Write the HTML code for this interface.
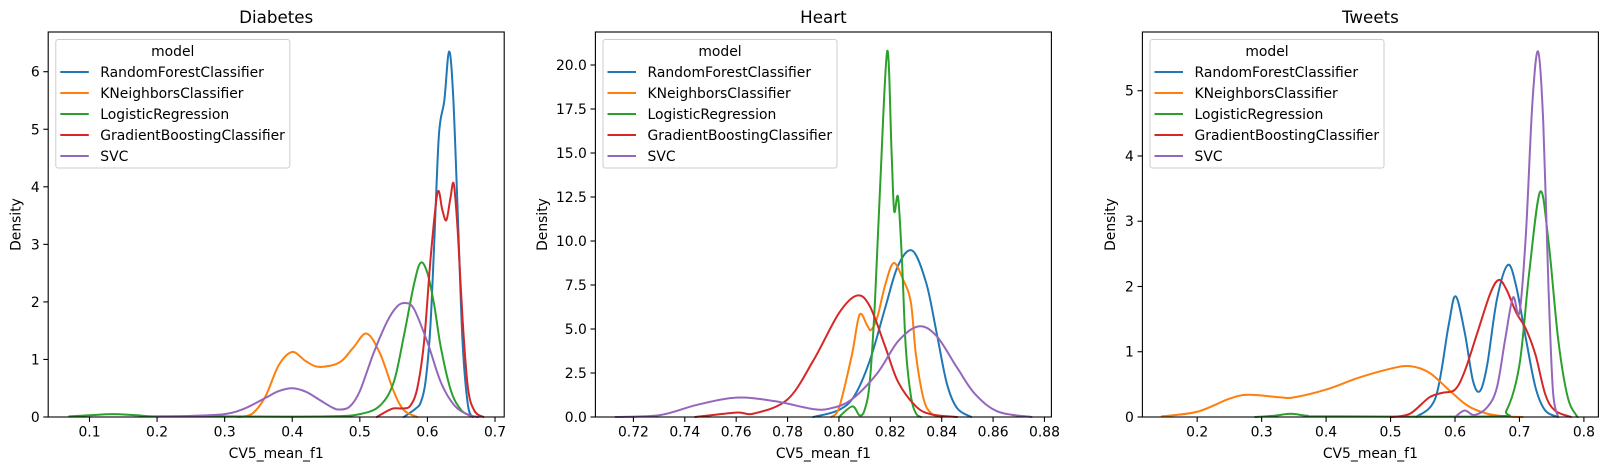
<!DOCTYPE html>
<html><head><meta charset="utf-8"><style>
html,body{margin:0;padding:0;background:#fff;}
svg{display:block;font-family:"DejaVu Sans","Liberation Sans",sans-serif;}
</style></head><body>
<svg id="fig" width="1608" height="470" viewBox="0 0 1608 470"></svg>
<script>
const modelNames = ["RandomForestClassifier","KNeighborsClassifier","LogisticRegression","GradientBoostingClassifier","SVC"];
const colors = ["#1f77b4","#ff7f0e","#2ca02c","#d62728","#9467bd"];

// Diabetes
const diabXTicks = [0.1,0.2,0.3,0.4,0.5,0.6,0.7];
const diabYTicks = [0,1,2,3,4,5,6];
const diabRF_x = [0.565,0.575,0.583,0.59,0.597,0.604,0.61,0.617,0.625,0.632,0.638,0.645,0.652,0.66,0.667];
const diabRF_y = [0,0.08,0.15,0.25,0.6,1.5,3.0,4.9,5.5,6.35,5.6,3.5,1.3,0.2,0];
const diabKNN_x = [0.32,0.34,0.36,0.38,0.4,0.42,0.44,0.47,0.49,0.51,0.53,0.55,0.565,0.585];
const diabKNN_y = [0,0.05,0.35,0.9,1.13,0.97,0.87,0.95,1.2,1.45,1.1,0.45,0.12,0];
const diabLR_x = [0.07,0.1,0.135,0.17,0.2,0.3,0.45,0.5,0.53,0.55,0.565,0.58,0.59,0.6,0.61,0.62,0.635,0.65,0.665,0.675];
const diabLR_y = [0.01,0.03,0.05,0.03,0.01,0.01,0.01,0.05,0.2,0.6,1.4,2.3,2.68,2.5,1.95,1.2,0.45,0.12,0.02,0];
const diabGB_x = [0.525,0.54,0.55,0.565,0.575,0.585,0.595,0.605,0.615,0.622,0.628,0.634,0.639,0.645,0.652,0.66,0.67,0.683];
const diabGB_y = [0,0.1,0.15,0.15,0.2,0.5,1.3,2.8,3.9,3.6,3.42,3.8,4.05,3.2,1.7,0.5,0.1,0];
const diabSVC_x = [0.2,0.25,0.3,0.33,0.36,0.38,0.4,0.42,0.44,0.46,0.47,0.485,0.5,0.52,0.54,0.555,0.567,0.58,0.6,0.62,0.64,0.66,0.675];
const diabSVC_y = [0.01,0.02,0.05,0.15,0.33,0.45,0.5,0.44,0.3,0.16,0.13,0.18,0.45,1.1,1.65,1.92,1.98,1.88,1.3,0.6,0.2,0.04,0];

// Heart
const heartXTicks = [0.72,0.74,0.76,0.78,0.80,0.82,0.84,0.86,0.88];
const heartYTicks = [0,2.5,5,7.5,10,12.5,15,17.5,20];
const heartRF_x = [0.79,0.8,0.806,0.812,0.818,0.823,0.8286,0.834,0.838,0.842,0.846,0.8515];
const heartRF_y = [0,0.4,1.2,3.2,6.2,8.6,9.45,7.6,4.8,1.9,0.5,0];
const heartKNN_x = [0.797,0.8,0.805,0.808,0.811,0.8125,0.815,0.818,0.8213,0.825,0.828,0.83,0.833,0.836,0.84];
const heartKNN_y = [0,0.5,3.5,5.8,5.2,4.95,5.7,7.5,8.75,7.8,6.5,3.5,1.0,0.2,0];
const heartLR_x = [0.8,0.8052,0.808,0.81,0.812,0.814,0.816,0.8188,0.8205,0.8215,0.823,0.8245,0.826,0.828,0.83,0.832];
const heartLR_y = [0,0.6,0.1,0.4,2,6.5,13,20.8,15,11.7,12.5,9,4,1.2,0.2,0];
const heartGB_x = [0.744,0.76,0.767,0.78,0.79,0.8,0.807,0.812,0.818,0.823,0.83,0.836,0.846];
const heartGB_y = [0,0.25,0.2,1.0,3.2,5.9,6.9,6.3,4.0,2.0,0.6,0.15,0];
const heartSVC_x = [0.713,0.73,0.745,0.76,0.775,0.79,0.797,0.805,0.815,0.823,0.831,0.838,0.846,0.853,0.862,0.875];
const heartSVC_y = [0,0.1,0.7,1.1,0.9,0.45,0.5,1.0,2.5,4.3,5.15,4.6,2.8,1.3,0.3,0];

// Tweets
const twXTicks = [0.2,0.3,0.4,0.5,0.6,0.7,0.8];
const twYTicks = [0,1,2,3,4,5];
const twRF_x = [0.54,0.57,0.59,0.601,0.615,0.628,0.639,0.65,0.665,0.682,0.695,0.71,0.725,0.74,0.76];
const twRF_y = [0,0.3,1.4,1.85,1.3,0.55,0.4,0.8,1.8,2.33,2.0,1.2,0.45,0.1,0];
const twKNN_x = [0.145,0.2,0.25,0.28,0.33,0.35,0.4,0.45,0.5,0.53,0.56,0.59,0.62,0.65,0.68,0.705];
const twKNN_y = [0.01,0.08,0.28,0.34,0.3,0.3,0.42,0.6,0.74,0.78,0.68,0.42,0.17,0.05,0.01,0];
const twLR_x = [0.29,0.32,0.345,0.37,0.4,0.66,0.68,0.7,0.715,0.732,0.745,0.76,0.775,0.79];
const twLR_y = [0,0.02,0.05,0.02,0.01,0.01,0.1,0.8,2.2,3.45,2.7,1.2,0.3,0];
const twGB_x = [0.5,0.53,0.56,0.58,0.6,0.615,0.635,0.655,0.668,0.68,0.695,0.71,0.725,0.74,0.755,0.78];
const twGB_y = [0,0.05,0.3,0.37,0.42,0.7,1.3,1.9,2.1,1.95,1.6,1.35,0.95,0.35,0.1,0];
const twSVC_x = [0.6,0.615,0.63,0.65,0.665,0.678,0.69,0.7,0.71,0.72,0.729,0.737,0.745,0.752,0.76];
const twSVC_y = [0,0.1,0.03,0.15,0.45,1.2,1.83,1.6,2.8,4.8,5.6,4.5,2.0,0.4,0];

const NS = "http://www.w3.org/2000/svg";
const svg = document.getElementById('fig');
function mk(tag, attrs, parent){
  const e = document.createElementNS(NS, tag);
  for (const k in attrs) e.setAttribute(k, attrs[k]);
  (parent||svg).appendChild(e);
  return e;
}
function smoothPath(pts){
  let d = "M"+pts[0][0].toFixed(2)+","+pts[0][1].toFixed(2);
  for (let i=0;i<pts.length-1;i++){
    const p0=pts[Math.max(0,i-1)], p1=pts[i], p2=pts[i+1], p3=pts[Math.min(pts.length-1,i+2)];
    const c1x=p1[0]+(p2[0]-p0[0])/6, c1y=p1[1]+(p2[1]-p0[1])/6;
    const c2x=p2[0]-(p3[0]-p1[0])/6, c2y=p2[1]-(p3[1]-p1[1])/6;
    d += " C"+c1x.toFixed(2)+","+Math.min(c1y,417).toFixed(2)+" "+c2x.toFixed(2)+","+Math.min(c2y,417).toFixed(2)+" "+p2[0].toFixed(2)+","+p2[1].toFixed(2);
  }
  return d;
}

const panels = [
  {name:"diabetes", title:"Diabetes", left:48.2, xmin:0.0389, xmax:0.7136, ymax:6.69, xt:diabXTicks, yt:diabYTicks, yfmt:v=>String(v), ylab:15.5,
   series:[[diabRF_x,diabRF_y],[diabKNN_x,diabKNN_y],[diabLR_x,diabLR_y],[diabGB_x,diabGB_y],[diabSVC_x,diabSVC_y]]},
  {name:"heart", title:"Heart", left:595.4, xmin:0.7052, xmax:0.8827, ymax:21.875, xt:heartXTicks, yt:heartYTicks, yfmt:v=>v.toFixed(1), ylab:542,
   series:[[heartRF_x,heartRF_y],[heartKNN_x,heartKNN_y],[heartLR_x,heartLR_y],[heartGB_x,heartGB_y],[heartSVC_x,heartSVC_y]]},
  {name:"tweets", title:"Tweets", left:1142.4, xmin:0.115, xmax:0.8225, ymax:5.9, xt:twXTicks, yt:twYTicks, yfmt:v=>String(v), ylab:1110,
   series:[[twRF_x,twRF_y],[twKNN_x,twKNN_y],[twLR_x,twLR_y],[twGB_x,twGB_y],[twSVC_x,twSVC_y]]}
];
const W = 456, TOP = 32, BOT = 417;
const xfmtD = v=>v.toFixed(1), xfmtH = v=>v.toFixed(2);

panels.forEach((p, pi)=>{
  const g = mk('g', {});
  
  
  const X = v => p.left + (v - p.xmin)/(p.xmax - p.xmin)*W;
  const Y = v => BOT - v/p.ymax*(BOT-TOP);
  p.series.forEach((s, si)=>{
    const pts = s[0].map((xv,i)=>[X(xv), Y(s[1][i])]);
    const path = mk('path', {d:smoothPath(pts), fill:'none', stroke:colors[si], 'stroke-width':2, 'stroke-linejoin':'round', 'stroke-linecap':'round'}, g);
    
    
  });
  const fr = mk('rect', {x:p.left, y:TOP, width:W, height:BOT-TOP, fill:'none', stroke:'#000', 'stroke-width':1.1}, g);
  
  
  p.xt.forEach(v=>{
    const x = X(v);
    mk('line', {x1:x, x2:x, y1:BOT, y2:BOT+4.9, stroke:'#000', 'stroke-width':1.1}, g);
    const t = mk('text', {x:x, y:BOT+19.5, 'text-anchor':'middle', 'font-size':13.9, fill:'#000'}, g);
    t.textContent = pi===1 ? xfmtH(v) : xfmtD(v);
    
    
  });
  p.yt.forEach(v=>{
    const y = Y(v);
    mk('line', {x1:p.left-4.9, x2:p.left, y1:y, y2:y, stroke:'#000', 'stroke-width':1.1}, g);
    const t = mk('text', {x:p.left-8.5, y:y+5, 'text-anchor':'end', 'font-size':13.9, fill:'#000'}, g);
    t.textContent = p.yfmt(v);
    
    
  });
  const tt = mk('text', {x:p.left+W/2, y:23, 'text-anchor':'middle', 'font-size':16.7, fill:'#000'}, g);
  tt.textContent = p.title;
  
  
  const xl = mk('text', {x:p.left+W/2, y:458, 'text-anchor':'middle', 'font-size':13.9, fill:'#000'}, g);
  xl.textContent = 'CV5_mean_f1';
  
  
  const yl = mk('text', {x:p.ylab+5, y:(TOP+BOT)/2, 'text-anchor':'middle', 'font-size':13.9, fill:'#000', transform:'rotate(-90 '+(p.ylab+5)+' '+((TOP+BOT)/2)+')'}, g);
  yl.textContent = 'Density';
  
  
  const lg = mk('g', {}, g);
  
  
  const lx = p.left + 7.6;
  mk('rect', {x:lx, y:39.5, width:234, height:128.5, rx:2.5, fill:'#fff', 'fill-opacity':0.8, stroke:'#cccccc', 'stroke-width':1}, lg);
  const lt = mk('text', {x:lx+117, y:56, 'text-anchor':'middle', 'font-size':13.9, fill:'#000'}, lg);
  lt.textContent = 'model';
  
  
  modelNames.forEach((m, i)=>{
    const ey = 72 + i*21;
    const e = mk('g', {}, lg);
    
    
    mk('line', {x1:lx+4.5, x2:lx+33, y1:ey, y2:ey, stroke:colors[i], 'stroke-width':2}, e);
    const et = mk('text', {x:lx+44.5, y:ey+5, 'font-size':13.9, fill:'#000'}, e);
    et.textContent = m;
  });
});
</script>
</body></html>
